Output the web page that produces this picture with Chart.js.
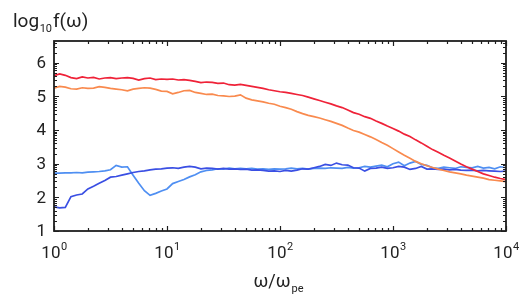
<!DOCTYPE html>
<html><head><meta charset="utf-8">
<script src="https://cdn.jsdelivr.net/npm/chart.js@4.4.0/dist/chart.umd.min.js"></script>
<style>html,body{margin:0;padding:0;background:#fff;}</style>
</head><body>
<canvas id="c" width="525" height="299"></canvas>
<script>
// x sample positions: log10(ω/ω_pe)
const logOmega = [0,0.05,0.1,0.15,0.2,0.25,0.3,0.35,0.4,0.45,0.5,0.55,0.6,0.65,0.7,0.75,0.8,0.85,0.9,0.95,
1,1.05,1.1,1.15,1.2,1.25,1.3,1.35,1.4,1.45,1.5,1.55,1.6,1.65,1.7,1.75,1.8,1.85,1.9,1.95,
2,2.05,2.1,2.15,2.2,2.25,2.3,2.35,2.4,2.45,2.5,2.55,2.6,2.65,2.7,2.75,2.8,2.85,2.9,2.95,
3,3.05,3.1,3.15,3.2,3.25,3.3,3.35,3.4,3.45,3.5,3.55,3.6,3.65,3.7,3.75,3.8,3.85,3.9,3.95,4];

const fRed = [5.62,5.67,5.63,5.56,5.53,5.58,5.55,5.57,5.52,5.55,5.56,5.53,5.55,5.56,5.54,5.49,5.53,5.55,5.50,5.52,
5.51,5.52,5.49,5.50,5.48,5.45,5.41,5.43,5.42,5.39,5.40,5.35,5.34,5.36,5.33,5.30,5.27,5.24,5.20,5.17,
5.14,5.12,5.09,5.06,5.03,4.98,4.93,4.88,4.83,4.78,4.72,4.67,4.60,4.52,4.47,4.40,4.35,4.27,4.20,4.12,
4.05,3.97,3.88,3.81,3.71,3.62,3.52,3.42,3.34,3.25,3.17,3.08,2.99,2.91,2.84,2.77,2.70,2.65,2.60,2.56,2.53];

const fOrange = [5.25,5.30,5.28,5.23,5.22,5.26,5.24,5.25,5.29,5.27,5.24,5.22,5.20,5.17,5.22,5.24,5.26,5.25,5.21,5.16,
5.15,5.08,5.12,5.17,5.18,5.12,5.09,5.06,5.07,5.03,5.02,5.00,5.01,5.05,4.95,4.90,4.87,4.84,4.80,4.77,
4.71,4.67,4.62,4.55,4.49,4.44,4.40,4.36,4.31,4.26,4.20,4.14,4.06,3.99,3.94,3.87,3.80,3.72,3.63,3.55,
3.45,3.35,3.25,3.16,3.07,3.00,2.94,2.89,2.84,2.80,2.76,2.73,2.70,2.66,2.63,2.60,2.57,2.53,2.51,2.49,2.47];

const fBlueDark = [1.72,1.69,1.70,2.02,2.07,2.10,2.25,2.33,2.42,2.50,2.60,2.62,2.66,2.70,2.74,2.77,2.79,2.82,2.84,2.85,
2.87,2.88,2.86,2.90,2.92,2.90,2.85,2.87,2.86,2.84,2.86,2.84,2.85,2.83,2.84,2.81,2.82,2.80,2.78,2.79,
2.77,2.80,2.78,2.81,2.85,2.84,2.88,2.92,2.98,2.95,3.02,2.97,2.96,2.88,2.87,2.78,2.86,2.87,2.90,2.86,
2.88,2.92,2.90,2.83,2.86,2.92,2.84,2.85,2.83,2.84,2.82,2.83,2.81,2.80,2.81,2.79,2.80,2.79,2.78,2.77,2.78];

const fBlueLight = [2.72,2.72,2.73,2.73,2.74,2.73,2.75,2.76,2.77,2.79,2.82,2.95,2.90,2.91,2.66,2.42,2.20,2.06,2.12,2.19,
2.25,2.41,2.47,2.53,2.61,2.67,2.76,2.80,2.82,2.85,2.84,2.87,2.85,2.86,2.85,2.86,2.84,2.85,2.83,2.85,
2.84,2.85,2.87,2.85,2.86,2.84,2.86,2.87,2.86,2.88,2.87,2.86,2.89,2.87,2.88,2.92,2.90,2.93,2.96,2.91,
3.00,3.05,2.94,3.02,3.07,2.98,2.95,2.88,2.86,2.90,2.88,2.86,2.91,2.89,2.88,2.92,2.87,2.89,2.85,2.91,2.88];

const xTickExponents = [0,1,2,3,4];
const yTickLabels = [1,2,3,4,5,6];

const FONT = 'Roboto, "Open Sans", "DejaVu Sans", sans-serif';
const pts = arr => logOmega.map((v,i)=>({x:Math.pow(10,v), y:arr[i]}));

const axesPlugin = {
  id:'axesPlugin',
  afterDatasetsDraw(chart){
    const {ctx, chartArea:a, scales:{x,y}} = chart;
    ctx.save();
    ctx.strokeStyle = '#1e1e1e';
    ctx.lineWidth = 1.2;
    ctx.beginPath();
    xTickExponents.forEach((e,i)=>{
      const base = Math.pow(10,e);
      const px = Math.round(x.getPixelForValue(base))+0.5;
      ctx.moveTo(px,a.bottom); ctx.lineTo(px,a.bottom-5);
      ctx.moveTo(px,a.top); ctx.lineTo(px,a.top+5);
      if(i<xTickExponents.length-1){
        for(let k=2;k<=9;k++){
          const mx = Math.round(x.getPixelForValue(k*base))+0.5;
          ctx.moveTo(mx,a.bottom); ctx.lineTo(mx,a.bottom-3);
          ctx.moveTo(mx,a.top); ctx.lineTo(mx,a.top+3);
        }
      }
    });
    yTickLabels.forEach(v=>{
      const py = Math.round(y.getPixelForValue(v))+0.5;
      ctx.moveTo(a.left,py); ctx.lineTo(a.left+5,py);
      ctx.moveTo(a.right,py); ctx.lineTo(a.right-5,py);
      for(let k=2;k<=9;k++){
        const mv = v+Math.log10(k);
        if(mv>=y.max) break;
        const my = Math.round(y.getPixelForValue(mv))+0.5;
        ctx.moveTo(a.left,my); ctx.lineTo(a.left+3,my);
        ctx.moveTo(a.right,my); ctx.lineTo(a.right-3,my);
      }
    });
    ctx.stroke();
    ctx.lineWidth = 1.8;
    ctx.strokeRect(a.left, a.top, a.right-a.left, a.bottom-a.top);

    ctx.fillStyle = '#222';
    ctx.font = '17px '+FONT;
    ctx.textAlign = 'right'; ctx.textBaseline = 'middle';
    yTickLabels.forEach(v=>{ ctx.fillText(String(v), a.left-8, y.getPixelForValue(v)+1); });
    ctx.textBaseline = 'alphabetic';
    xTickExponents.forEach(e=>{
      const px = x.getPixelForValue(Math.pow(10,e));
      ctx.font = '17px '+FONT;
      const wb = ctx.measureText('10').width;
      ctx.font = '11px '+FONT;
      const we = ctx.measureText(String(e)).width;
      const start = px - (wb+we)/2;
      ctx.textAlign = 'left';
      ctx.font = '17px '+FONT;
      ctx.fillText('10', start, 258);
      ctx.font = '11px '+FONT;
      ctx.fillText(String(e), start+wb+0.5, 250);
    });
    ctx.font = '18px '+FONT;
    const t1 = 'ω/ω';
    const w1 = ctx.measureText(t1).width;
    ctx.font = '11px '+FONT;
    const w2 = ctx.measureText('pe').width;
    const xs = 280 - (w1+w2)/2 - 2;
    ctx.font = '18px '+FONT;
    ctx.fillText(t1, xs, 287);
    ctx.font = '11px '+FONT;
    ctx.fillText('pe', xs+w1+1, 292);
    ctx.font = '19px '+FONT;
    ctx.fillText('log', 13, 27);
    const wl = ctx.measureText('log').width;
    ctx.font = '11px '+FONT;
    ctx.fillText('10', 13+wl+0.5, 32);
    const ws = ctx.measureText('10').width;
    ctx.font = '19px '+FONT;
    ctx.fillText('f(ω)', 13+wl+ws+1.5, 27);
    ctx.restore();
  }
};

const ds = (label, arr, color) => ({label, data: pts(arr), borderColor: color, borderWidth: 1.7,
  pointRadius: 0, fill: false, tension: 0});

new Chart(document.getElementById('c'), {
  type: 'line',
  data: { datasets: [
    ds('red', fRed, '#ef2238'),
    ds('orange', fOrange, '#f98a4e'),
    ds('blue', fBlueDark, '#3a4fe3'),
    ds('lightblue', fBlueLight, '#4f8ff2')
  ]},
  options: {
    responsive: false, animation: false, devicePixelRatio: 1,
    layout: { padding: { left: 54, right: 19, top: 41, bottom: 68 } },
    plugins: { legend: {display:false}, tooltip: {enabled:false} },
    scales: {
      x: { type: 'logarithmic', min: 1, max: 10000, display: false },
      y: { type: 'linear', min: 1, max: 6.65, display: false }
    }
  },
  plugins: [axesPlugin]
});
</script>
</body></html>
